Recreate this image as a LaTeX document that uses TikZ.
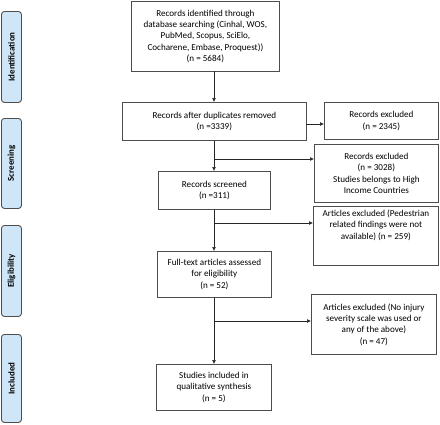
\documentclass[tikz,border=0pt]{standalone}
\usepackage{fontspec}
\setmainfont{Carlito}
\usetikzlibrary{arrows.meta}
\definecolor{sidefill}{HTML}{CFE6F8}
\definecolor{boxline}{HTML}{4D4D4D}
\begin{document}
\begin{tikzpicture}[x=1pt,y=-1pt,
  box/.style={draw=boxline, line width=0.8pt, fill=white, align=center,
    font=\fontsize{9.1}{11.3}\selectfont, inner sep=0pt, anchor=north west},
  side/.style={draw=boxline, line width=0.9pt, fill=sidefill, rounded corners=3pt,
    anchor=north west, inner sep=0pt},
  sidetext/.style={rotate=90, font=\fontsize{8.9}{10}\selectfont\bfseries},
  arr/.style={draw=black!85, line width=0.7pt, -{Latex[length=4pt,width=4pt]}}]
\useasboundingbox (0,0) rectangle (440,424);
% side labels
\node[side, minimum width=20pt, minimum height=91pt] (sid) at (1,11) {};
\node[sidetext] (lid) at (sid.center) {Identification};
\node[side, minimum width=20pt, minimum height=90pt] (ssc) at (1,118) {};
\node[sidetext] (lsc) at (ssc.center) {Screening};
\node[side, minimum width=20pt, minimum height=91pt] (sel) at (1,225) {};
\node[sidetext] (lel) at (sel.center) {Eligibility};
\node[side, minimum width=20pt, minimum height=88pt] (sin) at (1,334) {};
\node[sidetext] (lin) at (sin.center) {Included};
% main boxes
\node[box, minimum width=148pt, minimum height=70pt] (b1) at (131,1)
  {Records identified through\\database searching (Cinhal, WOS,\\PubMed, Scopus, SciElo,\\Cocharene, Embase, Proquest))\\(n = 5684)};
\node[box, minimum width=184pt, minimum height=38pt] (b2) at (122,102)
  {Records after duplicates removed\\(n =3339)};
\node[box, minimum width=114pt, minimum height=37pt] (e1) at (324,102)
  {Records excluded\\(n = 2345)};
\node[box, minimum width=124pt, minimum height=58pt] (e2) at (314,144)
  {Records excluded\\(n = 3028)\\Studies belongs to High\\Income Countries};
\node[box, minimum width=112pt, minimum height=38pt] (b3) at (158,171)
  {Records screened\\(n =311)};
\node[box, minimum width=125pt, minimum height=59pt] (e3) at (313,206)
  {Articles excluded (Pedestrian\\related findings were not\\available) (n = 259)\\[11.3pt]};
\node[box, minimum width=114pt, minimum height=46pt] (b4) at (157,251)
  {Full-text articles assessed\\for eligibility\\(n = 52)};
\node[box, minimum width=125pt, minimum height=60pt] (e4) at (311,294)
  {Articles excluded (No injury\\severity scale was used or\\any of the above)\\(n = 47)};
\node[box, minimum width=115pt, minimum height=46pt] (b5) at (156,364)
  {Studies included in\\qualitative synthesis\\(n = 5)};
% connectors
\coordinate (t1) at (214,71);
\coordinate (t2) at (306,124);
\coordinate (j2) at (214,159);
\coordinate (j3) at (214,223);
\coordinate (j4) at (214,321);
\draw[arr] (t1) -- (t1 |- b2.north);
\draw[arr] (t2) -- (t2 -| e1.west);
\draw[arr] (t1 |- b2.south) -- (t1 |- b3.north);
\draw[arr] (j2) -- (j2 -| e2.west);
\draw[arr] (t1 |- b3.south) -- (t1 |- b4.north);
\draw[arr] (j3) -- (j3 -| e3.west);
\draw[arr] (t1 |- b4.south) -- (t1 |- b5.north);
\draw[arr] (j4) -- (j4 -| e4.west);
\end{tikzpicture}
\end{document}
